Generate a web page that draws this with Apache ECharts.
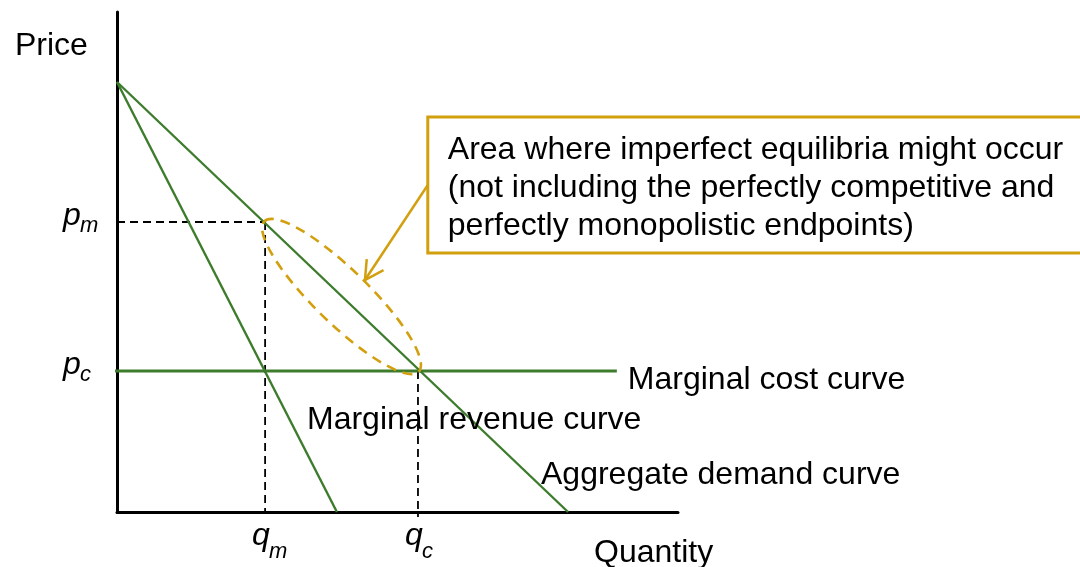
<!DOCTYPE html>
<html>
<head>
<meta charset="utf-8">
<script src="https://cdn.jsdelivr.net/npm/echarts@6/dist/echarts.min.js"></script>
<style>
html, body { margin: 0; padding: 0; background: #fff; }
#chart { width: 1080px; height: 567px; }
</style>
</head>
<body>
<div id="chart"></div>
<script>
// values (axis units 0-100 on both axes)
var pm = 58, pc = 28.2;          // monopoly / competitive price
var qm = 26.4, qc = 53.65;       // monopoly / competitive quantity
var demandPts = [[0, 86], [80.4, 0]];
var mrPts = [[0, 86], [39.2, 0]];
var mcPts = [[-0.9, pc], [89.1, pc]];
var pmGuide = [[0, pm], [qm, pm]];
var qmGuide = [[qm, pm], [qm, 0]];
var qcGuide = [[qc, pc], [qc, -1]];
var arrowPts = [[55.4, 65.4], [44.2, 46.4]];   // from box edge to tip
var boxCorner = [55.4, 79];                    // top-left of note box
var noteLines = [
    'Area where imperfect equilibria might occur',
    '(not including the perfectly competitive and',
    'perfectly monopolistic endpoints)'
];

var GREEN = '#3d7c2d', GOLD = '#d29f0e', FONT = 'Liberation Sans, Arial, sans-serif';

var chart = echarts.init(document.getElementById('chart'));

function lineSeries(data, color, width, dash) {
    return {
        type: 'line',
        data: data,
        symbol: 'none',
        clip: false,
        silent: true,
        animation: false,
        lineStyle: { color: color, width: width, type: dash || 'solid' }
    };
}

var hiddenAxis = function (max) {
    return {
        type: 'value',
        min: 0,
        max: max,
        axisLine: { show: true, onZero: false, lineStyle: { color: '#000', width: 3 } },
        axisTick: { show: false },
        axisLabel: { show: false },
        splitLine: { show: false }
    };
};

var option = {
    animation: false,
    grid: { left: 117, top: 12, width: 561, height: 500 },
    xAxis: hiddenAxis(100),
    yAxis: hiddenAxis(100),
    series: [
        lineSeries(pmGuide, '#000', 1.8, [8, 5]),
        lineSeries(qmGuide, '#000', 1.8, [8, 5]),
        lineSeries(qcGuide, '#000', 1.8, [8, 5]),
        lineSeries(demandPts, GREEN, 2.4),
        lineSeries(mrPts, GREEN, 2.4),
        lineSeries(mcPts, GREEN, 2.8),
        lineSeries(arrowPts, GOLD, 2.5)
    ]
};
chart.setOption(option);

function px(p) { return chart.convertToPixel({ gridIndex: 0 }, p); }

function txt(x, y, s, size, opts) {
    opts = opts || {};
    return {
        type: 'text', x: x, y: y, silent: true, z: 10,
        style: {
            text: s, fontSize: size, fontFamily: FONT,
            fontStyle: opts.italic ? 'italic' : 'normal',
            fill: '#000', align: opts.align || 'left', verticalAlign: 'middle'
        }
    };
}

var g = [];

// ellipse around the segment of demand between (qm,pm) and (qc,pc)
var a = px([qm, pm]), b = px([qc, pc]);
var th = Math.atan2(b[1] - a[1], b[0] - a[0]);
var half = Math.hypot(b[0] - a[0], b[1] - a[1]) / 2;
g.push({
    type: 'ellipse',
    x: (a[0] + b[0]) / 2,
    y: (a[1] + b[1]) / 2,
    rotation: -th,
    silent: true,
    z: 5,
    shape: { cx: 0, cy: 0, rx: half + 1, ry: 27 },
    style: { fill: 'none', stroke: GOLD, lineWidth: 2.6, lineDash: [10, 7] }
});

// open arrow head
var t0 = px(arrowPts[0]), t1 = px(arrowPts[1]);
var ang = Math.atan2(t1[1] - t0[1], t1[0] - t0[0]);
var wing = 21, spread = 0.5;
g.push({
    type: 'polyline', silent: true, z: 6,
    shape: { points: [
        [t1[0] - wing * Math.cos(ang - spread), t1[1] - wing * Math.sin(ang - spread)],
        t1,
        [t1[0] - wing * Math.cos(ang + spread), t1[1] - wing * Math.sin(ang + spread)]
    ] },
    style: { fill: 'none', stroke: GOLD, lineWidth: 2.5 }
});

// note box
var bc = px(boxCorner);
g.push({
    type: 'rect', silent: true, z: 6,
    shape: { x: bc[0], y: bc[1], width: 700, height: 136 },
    style: { fill: '#fff', stroke: GOLD, lineWidth: 3 }
});
noteLines.forEach(function (s, i) {
    g.push(txt(bc[0] + 20, bc[1] + 33 + i * 38, s, 32));
});

// axis titles and curve names
g.push(txt(15, 46, 'Price', 32));
g.push(txt(594, 553, 'Quantity', 32));
var mcEnd = px(mcPts[1]);
g.push(txt(mcEnd[0] + 11, mcEnd[1] + 9, 'Marginal cost curve', 32));
g.push(txt(307, 420, 'Marginal revenue curve', 32));
g.push(txt(541, 475, 'Aggregate demand curve', 32));

// p and q labels with subscripts
function pLabel(p, sub) {
    var q = px([0, p]);
    g.push(txt(q[0] - 54, q[1] - 6, 'p', 32, { italic: true }));
    g.push(txt(q[0] - 37, q[1] + 4, sub, 22, { italic: true }));
}
function qLabel(x, sub) {
    var q = px([x, 0]);
    g.push(txt(q[0] - 13, q[1] + 24, 'q', 32, { italic: true }));
    g.push(txt(q[0] + 4, q[1] + 40, sub, 22, { italic: true }));
}
pLabel(pm, 'm');
pLabel(pc, 'c');
qLabel(qm, 'm');
qLabel(qc, 'c');

chart.setOption({ graphic: g });
</script>
</body>
</html>
